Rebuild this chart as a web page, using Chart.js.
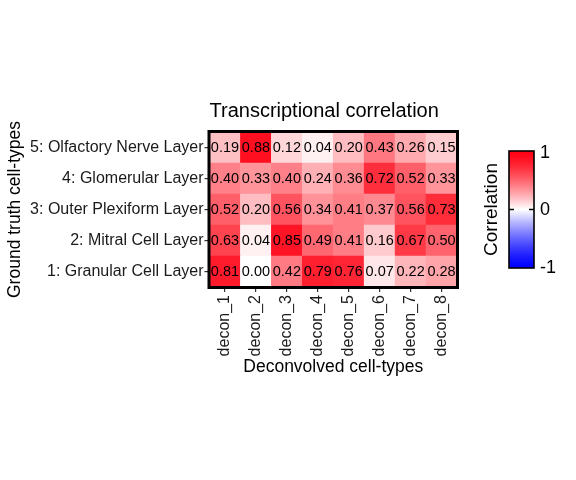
<!DOCTYPE html>
<html>
<head>
<meta charset="utf-8">
<script src="https://cdn.jsdelivr.net/npm/chart.js@4"></script>
<style>
  html, body { margin: 0; padding: 0; background: #ffffff; }
  #c { display: block; }
</style>
</head>
<body>
<canvas id="c" width="576" height="480"></canvas>
<script>
// ---- data ----
const columns = ['decon_1', 'decon_2', 'decon_3', 'decon_4', 'decon_5', 'decon_6', 'decon_7', 'decon_8'];
const rowLabels = ['1: Granular Cell Layer', '2: Mitral Cell Layer', '3: Outer Plexiform Layer', '4: Glomerular Layer', '5: Olfactory Nerve Layer'];
const granular       = [0.81, 0.00, 0.42, 0.79, 0.76, 0.07, 0.22, 0.28];
const mitral         = [0.63, 0.04, 0.85, 0.49, 0.41, 0.16, 0.67, 0.50];
const outerPlexiform = [0.52, 0.20, 0.56, 0.34, 0.41, 0.37, 0.56, 0.73];
const glomerular     = [0.40, 0.33, 0.40, 0.24, 0.36, 0.72, 0.52, 0.33];
const olfactoryNerve = [0.19, 0.88, 0.12, 0.04, 0.20, 0.43, 0.26, 0.15];
const colorbarTicks = [1, 0, -1];
const chartTitle = 'Transcriptional correlation';
const xTitle = 'Deconvolved cell-types';
const yTitle = 'Ground truth cell-types';
const legendTitle = 'Correlation';

const values = [granular, mitral, outerPlexiform, glomerular, olfactoryNerve];

const FONT = "'Liberation Sans', Arial, Helvetica, sans-serif";

function colorFor(v) {
  const t = Math.min(1, Math.abs(v));
  const k = 255 * Math.pow(1 - t, 1.35);
  if (v >= 0) {
    const g = Math.round(k);
    const b = Math.round(Math.min(255, k + 20 * t));
    return `rgb(255,${g},${b})`;
  } else {
    const c = Math.round(k);
    return `rgb(${c},${c},255)`;
  }
}

const datasets = rowLabels.map((name, i) => ({
  label: name,
  data: columns.map(() => [i, i + 1]),
  backgroundColor: values[i].map(colorFor),
  borderWidth: 0,
  grouped: false,
  barPercentage: 1,
  categoryPercentage: 1
}));

const heatPlugin = {
  id: 'heatExtras',
  afterDatasetsDraw(chart) {
    const ctx = chart.ctx;
    const ca = chart.chartArea;
    ctx.save();
    ctx.fillStyle = '#000';
    ctx.font = `14.5px ${FONT}`;
    ctx.textAlign = 'center';
    ctx.textBaseline = 'middle';
    values.forEach((row, i) => {
      const meta = chart.getDatasetMeta(i);
      meta.data.forEach((bar, j) => {
        const p = bar.getProps(['x', 'y', 'base'], true);
        ctx.fillText(row[j].toFixed(2), p.x, (p.y + p.base) / 2 + 0.5);
      });
    });
    // panel frame
    ctx.strokeStyle = '#000';
    ctx.lineWidth = 3;
    ctx.strokeRect(ca.left - 0.5, ca.top - 0.5, ca.right - ca.left + 1, ca.bottom - ca.top + 1);
    ctx.restore();
  },
  afterDraw(chart) {
    const ctx = chart.ctx;
    const ca = chart.chartArea;
    const cy = (ca.top + ca.bottom) / 2;
    const barL = ca.right + 52;
    const barW = 25;
    const barH = 117;
    const barT = cy - barH / 2;
    const barB = cy + barH / 2;
    ctx.save();
    const grad = ctx.createLinearGradient(0, barT, 0, barB);
    for (let s = 0; s <= 40; s++) {
      const v = 1 - s / 20;
      grad.addColorStop(s / 40, colorFor(v));
    }
    ctx.fillStyle = grad;
    ctx.fillRect(barL, barT, barW, barH);
    // zero tick marks
    const yOf = v => barT + (1 - v) / 2 * barH;
    ctx.strokeStyle = '#000';
    ctx.lineWidth = 1.5;
    ctx.beginPath();
    ctx.moveTo(barL, yOf(0)); ctx.lineTo(barL + 5, yOf(0));
    ctx.moveTo(barL + barW, yOf(0)); ctx.lineTo(barL + barW - 5, yOf(0));
    ctx.stroke();
    ctx.lineWidth = 1.6;
    ctx.strokeRect(barL, barT, barW, barH);
    // labels
    ctx.fillStyle = '#000';
    ctx.font = `18px ${FONT}`;
    ctx.textAlign = 'left';
    ctx.textBaseline = 'middle';
    colorbarTicks.forEach(v => {
      const yy = Math.min(Math.max(yOf(v), barT + 1), barB - 1);
      ctx.fillText(String(v), barL + barW + 6, yy + 1);
    });
    // legend title
    ctx.font = `19px ${FONT}`;
    ctx.translate(barL - 17, cy);
    ctx.rotate(-Math.PI / 2);
    ctx.textAlign = 'center';
    ctx.fillText(legendTitle, 0, 0);
    ctx.restore();
  }
};

new Chart(document.getElementById('c'), {
  type: 'bar',
  data: { labels: columns, datasets },
  options: {
    responsive: false,
    animation: false,
    events: [],
    layout: { padding: { left: 4.5, right: 119, top: 99.3, bottom: 102.8 } },
    plugins: {
      legend: { display: false },
      tooltip: { enabled: false },
      title: {
        display: true,
        text: chartTitle,
        align: 'start',
        fullSize: false,
        color: '#000',
        font: { family: FONT, size: 20, weight: 'normal' },
        padding: { top: 0, bottom: 8.7 }
      }
    },
    scales: {
      x: {
        type: 'category',
        offset: true,
        afterFit(scale) { scale.height = 90.2; },
        grid: { display: true, drawOnChartArea: false, drawTicks: true, tickLength: 5, offset: false, color: '#333', lineWidth: 1.2 },
        border: { display: false },
        ticks: {
          color: '#1a1a1a',
          font: { family: FONT, size: 16 },
          minRotation: 90,
          maxRotation: 90,
          padding: 3,
          autoSkip: false
        },
        title: {
          display: true,
          text: xTitle,
          color: '#000',
          font: { family: FONT, size: 17.5 },
          padding: 0
        }
      },
      y: {
        type: 'linear',
        min: 0,
        max: rowLabels.length,
        afterBuildTicks(scale) { scale.ticks = rowLabels.map((_, i) => ({ value: i + 0.5 })); },
        afterFit(scale) { scale.width = 205; },
        grid: { display: true, drawOnChartArea: false, drawTicks: true, tickLength: 5, color: '#333', lineWidth: 1.2 },
        border: { display: false },
        ticks: {
          color: '#1a1a1a',
          font: { family: FONT, size: 16 },
          padding: 1,
          callback: (value, index) => rowLabels[index]
        },
        title: {
          display: true,
          text: yTitle,
          color: '#000',
          font: { family: FONT, size: 17.5 },
          padding: 0
        }
      }
    }
  },
  plugins: [heatPlugin]
});
</script>
</body>
</html>
